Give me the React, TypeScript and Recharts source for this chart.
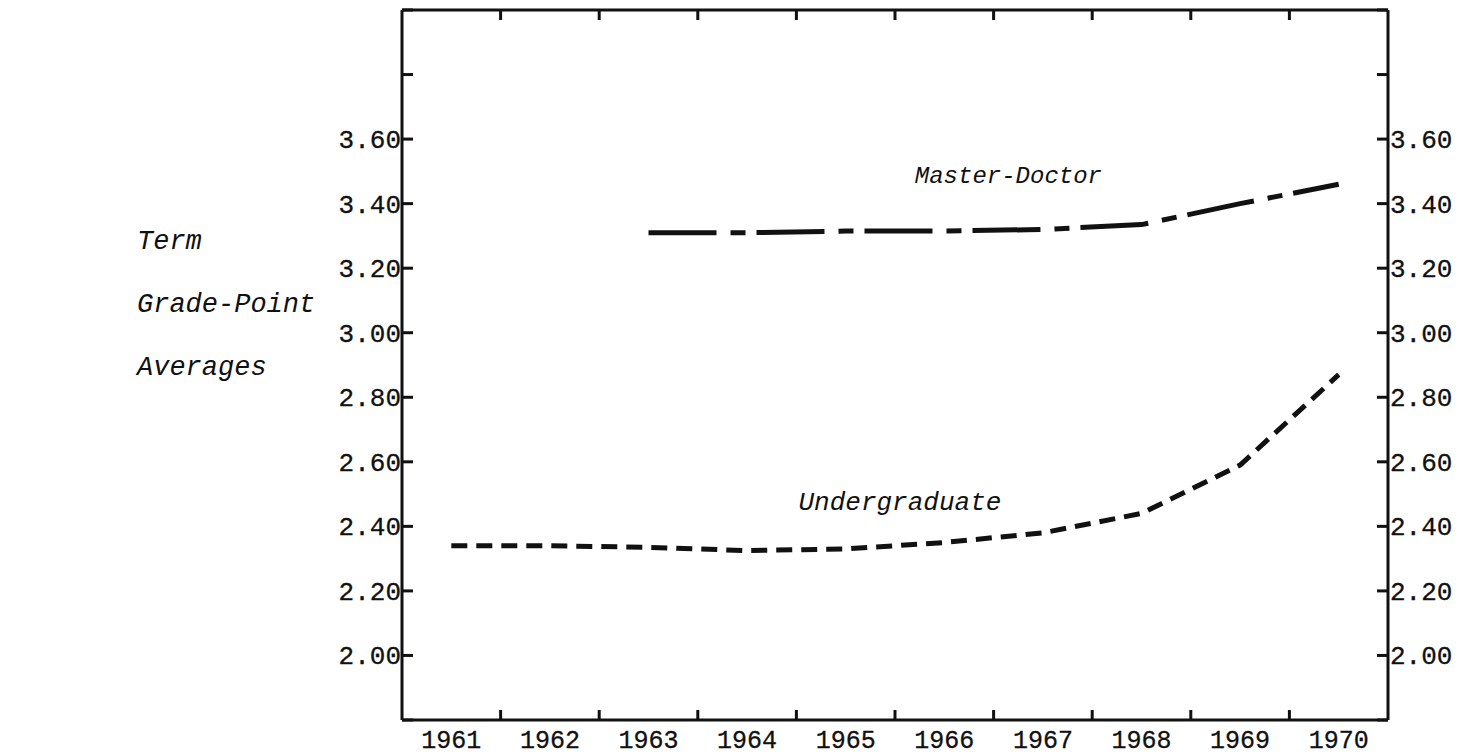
import React from 'react';
import { LineChart, Line, XAxis, YAxis, ReferenceDot } from 'recharts';

const years = [1961, 1962, 1963, 1964, 1965, 1966, 1967, 1968, 1969, 1970];
const undergrad = [2.34, 2.34, 2.335, 2.325, 2.33, 2.35, 2.38, 2.44, 2.59, 2.87];
const masterDoctor = [null, null, 3.31, 3.31, 3.315, 3.315, 3.32, 3.335, 3.4, 3.46];
const yTicks = [1.8, 2.0, 2.2, 2.4, 2.6, 2.8, 3.0, 3.2, 3.4, 3.6, 3.8, 4.0];
const yearBounds = [1961.5, 1962.5, 1963.5, 1964.5, 1965.5, 1966.5, 1967.5, 1968.5, 1969.5];
const titleLines = ['Term', 'Grade-Point', 'Averages'];

const data = years.map((y, i) => ({ year: y, ug: undergrad[i], md: masterDoctor[i] }));

const FONT = '"Liberation Mono", "DejaVu Sans Mono", monospace';
const INK = '#111';

const labelled = (v: number) => v >= 1.99 && v <= 3.61;

const BottomTick = (props: any) => {
  const { x, y, payload } = props;
  const v = payload.value;
  if (Number.isInteger(v)) {
    return (
      <text x={x} y={y + 28} textAnchor="middle" fontFamily={FONT} fontSize={25}
        fill={INK} stroke={INK} strokeWidth={0.3}>
        {v}
      </text>
    );
  }
  return <line x1={x} y1={y} x2={x} y2={y - 10} stroke={INK} strokeWidth={3} />;
};

const TopTick = (props: any) => {
  const { x, y } = props;
  return <line x1={x} y1={y} x2={x} y2={y + 10} stroke={INK} strokeWidth={3} />;
};

const LeftTick = (props: any) => {
  const { x, y, payload } = props;
  const v = payload.value;
  return (
    <g>
      <line x1={x} y1={y} x2={x + 11} y2={y} stroke={INK} strokeWidth={3} />
      {labelled(v) && (
        <text x={x - 1} y={y + 9} textAnchor="end" fontFamily={FONT} fontSize={26}
          fill={INK} stroke={INK} strokeWidth={0.3}>
          {v.toFixed(2)}
        </text>
      )}
    </g>
  );
};

const RightTick = (props: any) => {
  const { x, y, payload } = props;
  const v = payload.value;
  return (
    <g>
      <line x1={x} y1={y} x2={x - 11} y2={y} stroke={INK} strokeWidth={3} />
      {labelled(v) && (
        <text x={x + 2} y={y + 9} textAnchor="start" fontFamily={FONT} fontSize={26}
          fill={INK} stroke={INK} strokeWidth={0.3}>
          {v.toFixed(2)}
        </text>
      )}
    </g>
  );
};

const App = () => {
  return (
    <div style={{ position: 'absolute', left: 0, top: 0, width: 1467, height: 756, background: '#fff' }}>
      {titleLines.map((t, i) => (
        <div
          key={t}
          style={{
            position: 'absolute',
            left: 137,
            top: 226 + i * 63,
            fontFamily: FONT,
            fontStyle: 'italic',
            fontSize: 27,
            lineHeight: '32px',
            color: INK
          }}
        >
          {t}
        </div>
      ))}
      <LineChart width={1467} height={756} data={data} margin={{ top: 0, right: 0, bottom: 0, left: 0 }}>
        <XAxis
          dataKey="year"
          type="number"
          domain={[1960.5, 1970.5]}
          ticks={[...years, ...yearBounds]}
          interval={0}
          height={36}
          tickLine={false}
          tickSize={0}
          tickMargin={0}
          axisLine={{ stroke: INK, strokeWidth: 3 }}
          tick={BottomTick}
        />
        <XAxis
          xAxisId="top"
          orientation="top"
          dataKey="year"
          type="number"
          domain={[1960.5, 1970.5]}
          ticks={yearBounds}
          interval={0}
          height={10}
          tickLine={false}
          tickSize={0}
          tickMargin={0}
          axisLine={{ stroke: INK, strokeWidth: 3 }}
          tick={TopTick}
        />
        <YAxis
          type="number"
          domain={[1.8, 4.0]}
          ticks={yTicks}
          interval={0}
          width={402}
          tickLine={false}
          tickSize={0}
          tickMargin={0}
          axisLine={{ stroke: INK, strokeWidth: 3 }}
          tick={LeftTick}
        />
        <YAxis
          yAxisId="right"
          orientation="right"
          type="number"
          domain={[1.8, 4.0]}
          ticks={yTicks}
          interval={0}
          width={79}
          tickLine={false}
          tickSize={0}
          tickMargin={0}
          axisLine={{ stroke: INK, strokeWidth: 3 }}
          tick={RightTick}
        />
        <Line
          dataKey="md"
          yAxisId="right"
          type="linear"
          stroke={INK}
          strokeWidth={5}
          strokeDasharray="68 14 15 11"
          dot={false}
          activeDot={false}
          isAnimationActive={false}
        />
        <Line
          dataKey="ug"
          type="linear"
          stroke={INK}
          strokeWidth={5}
          strokeDasharray="16 9"
          dot={false}
          activeDot={false}
          isAnimationActive={false}
        />
        <ReferenceDot
          x={1966.65}
          y={3.49}
          r={0}
          fill="none"
          stroke="none"
          label={{ value: 'Master-Doctor', position: 'center', fontFamily: FONT, fontStyle: 'italic', fontSize: 24, fill: INK }}
        />
        <ReferenceDot
          x={1965.55}
          y={2.48}
          r={0}
          fill="none"
          stroke="none"
          label={{ value: 'Undergraduate', position: 'center', fontFamily: FONT, fontStyle: 'italic', fontSize: 26, fill: INK }}
        />
      </LineChart>
    </div>
  );
};

export default App;
